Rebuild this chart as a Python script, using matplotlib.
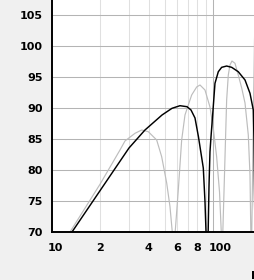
import matplotlib
matplotlib.use("Agg")
import matplotlib.pyplot as plt
from matplotlib.transforms import offset_copy

# Frequency (Hz) and level (dB)
black_freq = [10.0, 13.31, 19.87, 30.08, 37.8, 48.24, 55.64, 62.37, 68.96, 73.03,
              77.32, 81.28, 87.07, 89.2, 90.5, 91.8, 93.5, 94.5, 95.8, 97.2,
              100.4, 102.9, 107.9, 113.2, 121.6, 130.7, 143.6, 158.1, 169.8, 178.0,
              179.8, 181.1, 182.4, 184.0]
black_db = [65.2, 70.0, 76.66, 83.55, 86.45, 88.87, 89.95, 90.37, 90.21, 89.68,
            88.39, 85.32, 80.32, 74.89, 70.05, 60.0, 71.13, 77.58, 82.95, 85.32,
            90.21, 93.98, 95.85, 96.56, 96.77, 96.56, 95.85, 94.52, 92.37, 89.68,
            84.84, 76.77, 69.5, 60.0]

gray_freq = [10.0, 12.94, 19.87, 26.45, 28.4, 32.78, 36.07, 39.64, 44.7, 48.0,
             51.58, 54.07, 55.87, 57.0, 58.24, 60.88, 63.9, 67.0, 70.25, 73.74,
             79.2, 83.06, 89.2, 95.8, 100.4, 105.4, 109.8, 112.6, 113.7, 115.1,
             117.5, 119.6, 121.6, 124.5, 127.5, 131.2, 137.0, 143.6, 150.8, 158.1,
             165.7, 169.8, 171.8, 172.8, 174.2, 178.0, 181.1, 183.7]
gray_db = [65.4, 70.0, 77.7, 83.23, 84.68, 85.92, 86.45, 86.18, 84.84, 82.15,
           77.9, 74.08, 70.0, 60.0, 70.0, 76.77, 84.84, 88.87, 90.48, 92.1,
           93.39, 93.71, 92.9, 90.16, 86.77, 82.1, 76.45, 70.0, 60.0, 70.0,
           77.9, 84.84, 91.29, 95.32, 96.94, 97.58, 97.21, 95.32, 93.23, 90.81,
           85.65, 79.19, 70.0, 60.0, 70.0, 88.06, 100.97, 107.0]

y_ticks = [70, 75, 80, 85, 90, 95, 100, 105]
x_ticks = [10, 20, 40, 60, 80, 100]
x_labels = ["10", "2", "4", "6", "8", "100"]
minor_grid = [20, 30, 40, 50, 60, 70, 80, 90]
x_title = "Frequency"

plt.rcParams['font.family'] = ['DejaVu Sans']
plt.rcParams['font.weight'] = 'bold'

W, H = 255, 280
fig = plt.figure(figsize=(W / 100, H / 100), dpi=100)
fig.patch.set_facecolor('#f0f0f0')
ax = fig.add_axes([52 / W, 48 / H, (W - 52) / W, 232 / H])
ax.set_facecolor('white')
ax.set_xscale('log')
ax.set_xlim(10, 182.4)
ax.set_ylim(70, 107.42)

for v in minor_grid:
    ax.axvline(v, color='#e0e0e0', lw=0.75, zorder=0)
ax.axvline(100, color='#b4b4b4', lw=0.75, zorder=0)
for v in y_ticks[1:]:
    ax.axhline(v, color='#b4b4b4', lw=0.75, zorder=0)

ax.plot(gray_freq, gray_db, color='#bdbdbd', lw=0.85, zorder=2)
ax.plot(black_freq, black_db, color='black', lw=1.05, zorder=3)

for s in ['top', 'right']:
    ax.spines[s].set_visible(False)
for s in ['left', 'bottom']:
    ax.spines[s].set_linewidth(1.4)
    ax.spines[s].set_color('black')

ax.set_yticks(y_ticks)
ax.set_yticklabels([str(v) for v in y_ticks], fontsize=8, fontweight='bold')
ax.tick_params(axis='y', length=0, pad=6.5)
ax.set_xticks([])
ax.minorticks_off()
ax.xaxis.set_minor_locator(matplotlib.ticker.NullLocator())

trans = offset_copy(ax.get_xaxis_transform(), fig=fig, x=-4, y=-16, units='dots')
for v, s in zip(x_ticks, x_labels):
    ax.text(v, 0, s, transform=trans, ha='left', va='center', fontsize=8,
            fontweight='bold', clip_on=False)

fig.text(251 / W, 1 - 271 / H, x_title, ha='left', va='top', fontsize=8, fontweight='bold')

fig.savefig('out.png', dpi=100, facecolor=fig.get_facecolor())
